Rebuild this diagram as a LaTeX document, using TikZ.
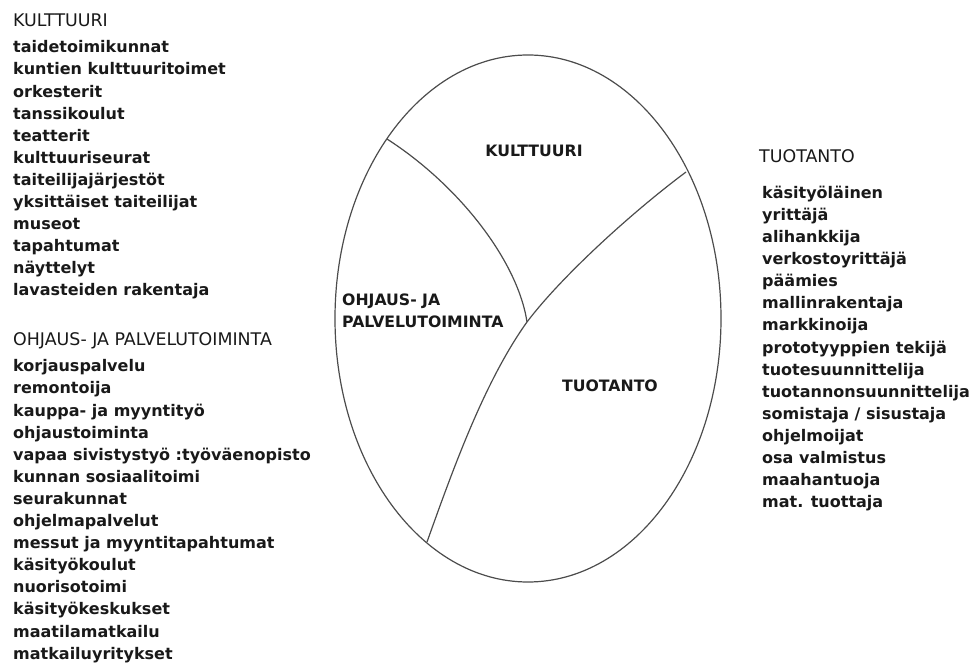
\documentclass[tikz,border=0pt]{standalone}
\usepackage{fontspec}
\setmainfont{DejaVu Sans}
\usetikzlibrary{positioning,shapes.geometric}
\tikzset{
    list-title/.style = {anchor=base west, inner sep=0pt, text=black!90, font=\fontsize{17.4}{22}\selectfont},
    list-box/.style = {anchor=north west, inner sep=0pt, align=left, text=black!90, font=\fontsize{16}{22.1}\selectfont\bfseries},
    region-label/.style = {inner sep=0pt, align=left, text=black!90, font=\fontsize{15.7}{21.7}\selectfont\bfseries},
    oval-box/.style = {draw=black!70, line width=1.2pt, ellipse, inner sep=0pt, minimum width=386pt, minimum height=527pt},
    divider/.style = {draw=black!70, line width=1.2pt},
}

\begin{document}
\begin{tikzpicture}[x=1pt, y=-1pt]
\useasboundingbox (0,0) rectangle (978,663);

% the oval and its three parts
\node[oval-box] (oval) at (528,318.5) {};
\coordinate (kult-left) at (387,139);
\coordinate (kult-right) at (686,172);
\coordinate (middle) at (527,322);
\coordinate (tuot-bottom) at (427,542);
\draw[divider] (kult-left) .. controls (460,186) and (518,262) .. (middle);
\draw[divider] (kult-right) .. controls (631,213) and (561,277) .. (middle);
\draw[divider] (middle) .. controls (484,382) and (452,472) .. (tuot-bottom);

\node[region-label, anchor=base] (kult-label) at (534,156.7) {KULTTUURI};
\node[region-label, anchor=north west] (ohj-label) at (342,293.5) {OHJAUS- JA\\PALVELUTOIMINTA};
\node[region-label, anchor=base] (tuot-label) at (610,391.7) {TUOTANTO};

% lists
\node[list-title] (kult-title) at (13,26.7) {KULTTUURI};
\node[list-box, below=13.8pt of kult-title.base west, anchor=north west] (kult-list) {taidetoimikunnat\\
    kuntien kulttuuritoimet\\
    orkesterit\\
    tanssikoulut\\
    teatterit\\
    kulttuuriseurat\\
    taiteilijajärjestöt\\
    yksittäiset taiteilijat\\
    museot\\
    tapahtumat\\
    näyttelyt\\
    lavasteiden rakentaja};

\node[list-title] (ohj-title) at (13,345) {OHJAUS- JA PALVELUTOIMINTA};
\node[list-box, below=14.5pt of ohj-title.base west, anchor=north west] (ohj-list) {korjauspalvelu\\
    remontoija\\
    kauppa- ja myyntityö\\
    ohjaustoiminta\\
    vapaa sivistystyö :työväenopisto\\
    kunnan sosiaalitoimi\\
    seurakunnat\\
    ohjelmapalvelut\\
    messut ja myyntitapahtumat\\
    käsityökoulut\\
    nuorisotoimi\\
    käsityökeskukset\\
    maatilamatkailu\\
    matkailuyritykset};

\node[list-title] (tuot-title) at (759,162.7) {TUOTANTO};
\node[list-box, below=23.1pt of tuot-title.base west, anchor=north west, xshift=3pt] (tuot-list) {käsityöläinen\\
    yrittäjä\\
    alihankkija\\
    verkostoyrittäjä\\
    päämies\\
    mallinrakentaja\\
    markkinoija\\
    prototyyppien tekijä\\
    tuotesuunnittelija\\
    tuotannonsuunnittelija\\
    somistaja / sisustaja\\
    ohjelmoijat\\
    osa valmistus\\
    maahantuoja\\
    mat. tuottaja};
\end{tikzpicture}
\end{document}
